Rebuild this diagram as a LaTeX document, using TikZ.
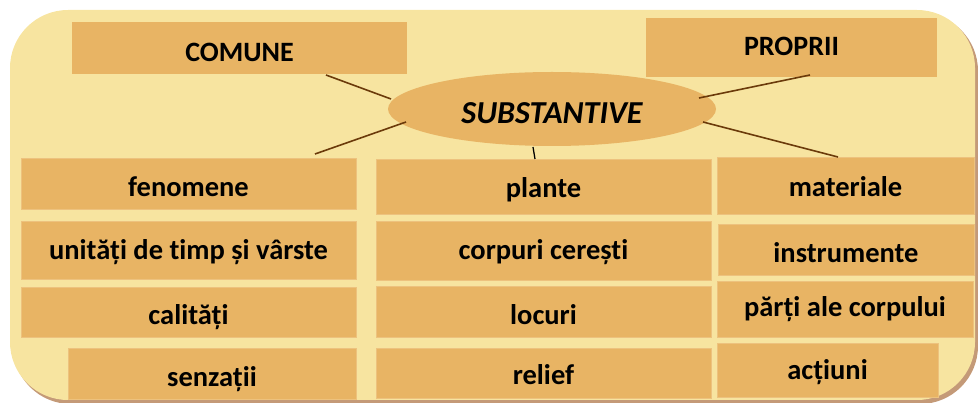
\documentclass[tikz,border=0pt]{standalone}
\usepackage{fontspec}
\setmainfont[Ligatures=NoCommon]{Carlito}
\usetikzlibrary{shapes.geometric}
\definecolor{bgfill}{HTML}{F7E4A0}
\definecolor{bgshadow}{HTML}{C49A78}
\definecolor{boxfill}{HTML}{E8B464}
\definecolor{boxline}{HTML}{EDC27E}
\definecolor{linkc}{HTML}{6B3A0A}
\tikzset{
  cell/.style={fill=boxfill, draw=boxline, line width=0.8pt, inner sep=0pt},
  celltext/.style={anchor=base, inner sep=0pt, font=\fontsize{28.5}{32}\selectfont\bfseries, text=black},
  link/.style={draw=linkc, line width=1.6pt},
  thinlink/.style={draw=black, line width=1.3pt}
}
\newcommand{\cellbox}[7]{% name, x1, y1, x2, y2, baseline, text
  \node[cell, minimum width={#4-#2}, minimum height={#5-#3}] (#1) at ({(#2+#4)/2},{(#3+#5)/2}) {};
  \node[celltext] (#1-t) at ({(#2+#4)/2},#6) {#7};}
\begin{document}
\begin{tikzpicture}[x=1pt,y=-1pt]
\useasboundingbox (0,0) rectangle (978,403);
% background panel
\fill[bgshadow] (13,13) [rounded corners=58pt] rectangle (978,404);
\fill[bgfill] (10,10) [rounded corners=58pt] rectangle (975,400);
% top boxes
\node[cell, draw=none, minimum width=335, minimum height=52] (comune) at (239.5,48) {};
\node[celltext, font=\fontsize{28}{32}\selectfont\bfseries] (comune-t) at (239.5,62) {COMUNE};
\node[cell, draw=none, minimum width=291, minimum height=59] (proprii) at (791.5,47.5) {};
\node[celltext, font=\fontsize{28}{32}\selectfont\bfseries] (proprii-t) at (791.5,56) {PROPRII};
% central ellipse
\node[ellipse, fill=boxfill, inner sep=0pt, minimum width=328, minimum height=74] (subst) at (552,109) {};
\node[celltext, font=\fontsize{32}{36}\selectfont\bfseries\itshape] (subst-t) at (552,124) {SUBSTANTIVE};
% column 1
\cellbox{fen}{21}{158}{356}{209}{197}{fenomene}
\cellbox{uni}{21}{221}{356}{279}{260}{unități de timp și vârste}
\cellbox{cal}{21}{287}{356}{337}{325}{calități}
\cellbox{sen}{68}{348}{356}{399}{387}{senzații}
% column 2
\cellbox{pla}{376}{159}{711}{214}{198}{plante}
\cellbox{cor}{376}{221}{711}{280}{260}{corpuri cerești}
\cellbox{loc}{376}{286}{711}{337}{325}{locuri}
\cellbox{rel}{376}{348}{711}{398}{385}{relief}
% column 3
\cellbox{mat}{717}{157}{974}{214}{197}{materiale}
\cellbox{ins}{718}{224}{974}{275}{263}{instrumente}
\cellbox{par}{717}{281}{973}{337}{317}{părți ale corpului}
\cellbox{act}{717}{343}{938}{397}{380}{acțiuni}
% connector end points
\coordinate (e1) at (391,99);
\coordinate (c1) at (326,75);
\coordinate (e2) at (406,122);
\coordinate (c2) at (315,154);
\coordinate (e3) at (699,98);
\coordinate (c3) at (810,75);
\coordinate (e4) at (703,122);
\coordinate (c4) at (838,157);
\coordinate (e5) at (533,147);
\coordinate (c5) at (535,159);
\draw[link] (e1) -- (c1);
\draw[link] (e2) -- (c2);
\draw[link] (e3) -- (c3);
\draw[link] (e4) -- (c4);
\draw[thinlink] (e5) -- (c5);
\end{tikzpicture}
\end{document}
